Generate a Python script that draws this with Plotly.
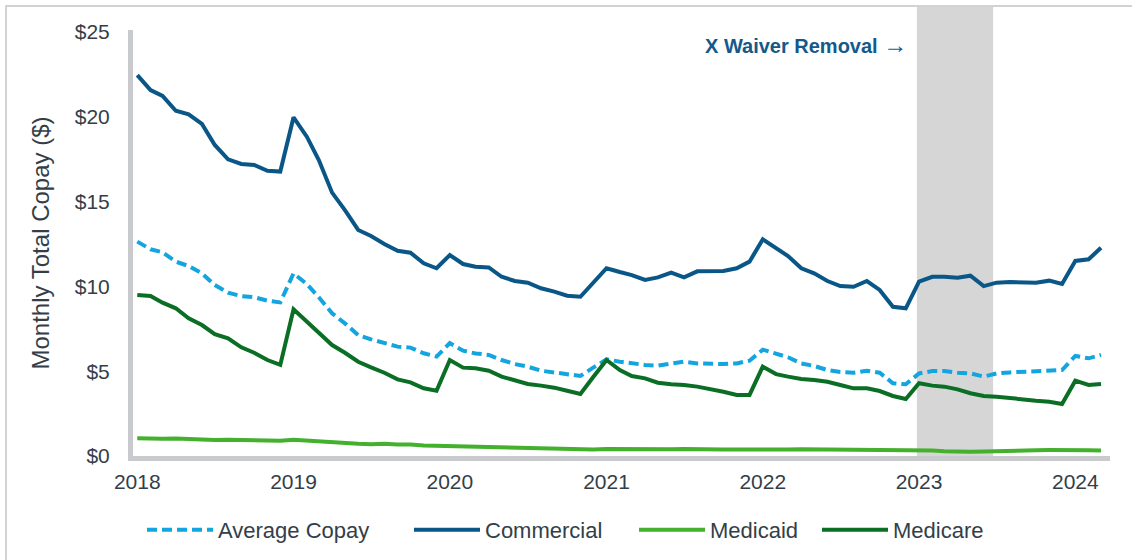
import plotly.graph_objects as go

# ---- data (monthly, Jan 2018 - Mar 2024) ----
years = [2018, 2019, 2020, 2021, 2022, 2023, 2024]
months = [f"{y}-{m:02d}-01" for y in years for m in range(1, 13)][:75]

average_copay = [
    12.64, 12.19, 12.01, 11.46, 11.20, 10.77, 10.08, 9.63, 9.43, 9.36, 9.16, 9.06,
    10.77, 10.14, 9.36, 8.41, 7.82, 7.13, 6.88, 6.64, 6.45, 6.39, 6.06, 5.86,
    6.66, 6.21, 6.05, 5.96, 5.66, 5.42, 5.27, 5.03, 4.91, 4.83, 4.72, 5.21,
    5.70, 5.56, 5.46, 5.37, 5.33, 5.46, 5.56, 5.46, 5.42, 5.42, 5.46, 5.62,
    6.27, 6.05, 5.82, 5.46, 5.31, 5.07, 4.95, 4.91, 5.03, 4.91, 4.29, 4.23,
    4.87, 5.01, 5.01, 4.91, 4.87, 4.68, 4.87, 4.93, 4.97, 5.01, 5.07, 5.07,
    5.90, 5.76, 5.96,
]
commercial = [
    22.46, 21.58, 21.23, 20.36, 20.15, 19.58, 18.34, 17.49, 17.22, 17.16, 16.82, 16.77,
    19.97, 18.83, 17.45, 15.53, 14.50, 13.33, 12.97, 12.50, 12.10, 11.99, 11.36, 11.07,
    11.85, 11.32, 11.16, 11.12, 10.57, 10.32, 10.22, 9.89, 9.69, 9.45, 9.39, 10.23,
    11.07, 10.85, 10.67, 10.38, 10.53, 10.81, 10.53, 10.89, 10.89, 10.91, 11.07, 11.46,
    12.78, 12.24, 11.79, 11.07, 10.77, 10.32, 10.02, 9.98, 10.32, 9.79, 8.80, 8.71,
    10.28, 10.57, 10.57, 10.51, 10.63, 10.02, 10.22, 10.26, 10.24, 10.22, 10.34, 10.14,
    11.50, 11.60, 12.28,
]
medicaid = [
    1.05, 1.02, 1.02, 1.03, 1.00, 0.95, 0.95, 0.96, 0.95, 0.94, 0.92, 0.90,
    0.96, 0.90, 0.84, 0.79, 0.75, 0.72, 0.70, 0.72, 0.68, 0.68, 0.62, 0.60,
    0.60, 0.59, 0.56, 0.54, 0.50, 0.46, 0.45, 0.44, 0.40, 0.42, 0.40, 0.39,
    0.42, 0.41, 0.39, 0.41, 0.39, 0.40, 0.41, 0.39, 0.39, 0.38, 0.39, 0.38,
    0.40, 0.39, 0.38, 0.40, 0.39, 0.38, 0.40, 0.39, 0.38, 0.39, 0.37, 0.36,
    0.35, 0.32, 0.28, 0.25, 0.25, 0.27, 0.30, 0.32, 0.33, 0.34, 0.35, 0.36,
    0.36, 0.34, 0.33,
]
medicare = [
    9.49, 9.43, 9.04, 8.71, 8.12, 7.72, 7.19, 6.94, 6.41, 6.09, 5.66, 5.37,
    8.65, 7.92, 7.33, 6.54, 6.09, 5.56, 5.23, 4.91, 4.52, 4.34, 3.99, 3.85,
    5.66, 5.21, 5.17, 5.03, 4.68, 4.44, 4.25, 4.15, 4.03, 3.85, 3.66, 4.66,
    5.66, 5.07, 4.72, 4.58, 4.32, 4.23, 4.19, 4.09, 3.95, 3.79, 3.60, 3.60,
    5.27, 4.83, 4.68, 4.54, 4.48, 4.38, 4.19, 3.99, 3.99, 3.83, 3.54, 3.36,
    4.29, 4.15, 4.09, 3.93, 3.70, 3.54, 3.50, 3.40, 3.34, 3.26, 3.20, 3.07,
    4.44, 4.19, 4.25,
]

y_tick_vals = [0, 5, 10, 15, 20, 25]
y_tick_text = ["$0", "$5", "$10", "$15", "$20", "$25"]
x_tick_vals = [f"{y}-01-01" for y in years]
x_tick_text = [str(y) for y in years]

band_start = "2022-12-27"
band_end = "2023-06-23"
band_label = "X Waiver Removal"

FONT = "Liberation Sans, Arial, sans-serif"
TXT = "#333E48"
AXIS = "#C9CACD"

series = [
    ("Average Copay", average_copay, dict(color="#12A5E0", width=4, dash="10px,5px"), "legend", 148),
    ("Commercial", commercial, dict(color="#0A5787", width=4), "legend2", 415),
    ("Medicaid", medicaid, dict(color="#43B02E", width=4), "legend3", 640),
    ("Medicare", medicare, dict(color="#0A6E25", width=4), "legend4", 823),
]

fig = go.Figure()
legend_defs = {}
for name, vals, line, leg, px in series:
    fig.add_trace(go.Scatter(x=months, y=vals, name=name, mode="lines", line=line, legend=leg,
                             hoverinfo="skip"))
    legend_defs[leg] = dict(orientation="h", xref="container", x=(px - 6) / 1132, xanchor="left",
                            yref="container", y=(560 - 530) / 560, yanchor="middle",
                            font=dict(family=FONT, size=22, color=TXT), itemwidth=66,
                            bgcolor="rgba(0,0,0,0)", borderwidth=0)

# shaded band for X waiver removal
fig.add_shape(type="rect", xref="x", yref="paper", x0=band_start, x1=band_end,
              y0=0, y1=1.054, fillcolor="#D6D6D6", line=dict(width=0), layer="below")
# outer frame (top and left visible)
fig.add_shape(type="rect", xref="paper", yref="paper", x0=-0.1300, x1=1.2,
              y0=-0.4, y1=1.0563, line=dict(color="#C4C4C4", width=1.5),
              fillcolor="rgba(0,0,0,0)", layer="above")

fig.add_annotation(x=band_start, xref="x", y=0.965, yref="paper",
                   text=f"<b>{band_label}</b> <span style='font-size:24px'>\u2192</span>",
                   showarrow=False, xanchor="right", yanchor="middle", xshift=-8,
                   font=dict(family=FONT, size=20, color="#14598A"))

fig.update_layout(
    width=1132, height=560,
    margin=dict(l=133, r=22, t=30, b=104, autoexpand=False),
    paper_bgcolor="white", plot_bgcolor="white",
    font=dict(family=FONT, color=TXT, size=21),
    showlegend=True,
    hovermode=False,
    xaxis=dict(type="date", range=["2017-12-22", "2024-03-22"],
               tickvals=x_tick_vals, ticktext=x_tick_text, automargin=False,
               showgrid=False, zeroline=False, showline=True, linecolor=AXIS, linewidth=5,
               ticks="", ticklabelstandoff=3,
               tickfont=dict(family=FONT, size=21, color=TXT)),
    yaxis=dict(range=[0, 25.12], tickvals=y_tick_vals, ticktext=y_tick_text, automargin=False,
               showgrid=False, zeroline=False, showline=True, linecolor=AXIS, linewidth=5,
               ticks="", ticklabelstandoff=14,
               tickfont=dict(family=FONT, size=21, color=TXT),
               title=dict(text="Monthly Total Copay ($)", standoff=20,
                          font=dict(family=FONT, size=24, color=TXT))),
    **legend_defs,
)

fig.write_html("out.html", config={"displayModeBar": False},
               post_script="document.body.style.margin='0';")
